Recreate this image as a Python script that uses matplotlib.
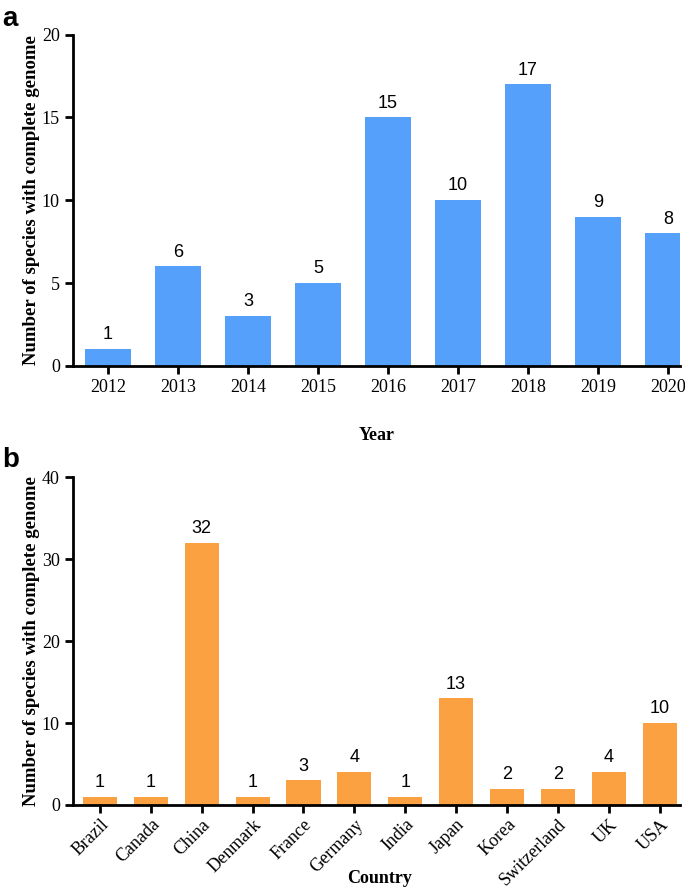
import numpy as np
import matplotlib
matplotlib.use("Agg")
import matplotlib.pyplot as plt

years = ["2012", "2013", "2014", "2015", "2016", "2017", "2018", "2019", "2020"]
year_counts = [1, 6, 3, 5, 15, 10, 17, 9, 8]

countries = ["Brazil", "Canada", "China", "Denmark", "France", "Germany", "India",
             "Japan", "Korea", "Switzerland", "UK", "USA"]
country_counts = [1, 1, 32, 1, 3, 4, 1, 13, 2, 2, 4, 10]

serif = "Liberation Serif"
sans = "Liberation Sans"
ylab = "Number of species with complete genome"


def style_axis(ax):
    for s in ["top", "right"]:
        ax.spines[s].set_visible(False)
    for s in ["left", "bottom"]:
        ax.spines[s].set_linewidth(2)
    ax.tick_params(width=2, length=6, labelsize=13, direction="out")
    for lab in ax.get_xticklabels() + ax.get_yticklabels():
        lab.set_fontfamily(serif)


fig = plt.figure(figsize=(6.85, 8.88), dpi=100)

# panel a
ax1 = fig.add_axes([0.1066, 0.588, 0.886, 0.373])
x1 = np.arange(len(years))
ax1.bar(x1, year_counts, width=0.65, color="#55A0FA")
for x, v in zip(x1, year_counts):
    ax1.text(x, v + 0.35, str(v), ha="center", va="bottom", fontsize=13, fontfamily=sans)
ax1.set_xlim(-0.5, 8.17)
ax1.set_ylim(0, 20)
ax1.set_yticks([0, 5, 10, 15, 20])
ax1.set_xticks(x1)
ax1.set_xticklabels(years)
style_axis(ax1)
ax1.set_ylabel(ylab, fontsize=13.5, fontweight="bold", fontfamily=serif, labelpad=1)
ax1.set_xlabel("Year", fontsize=13, fontweight="bold", fontfamily=serif, labelpad=22)
fig.text(0.003, 0.993, "a", fontsize=20, fontweight="bold", fontfamily=sans, va="top")

# panel b
ax2 = fig.add_axes([0.1066, 0.0935, 0.886, 0.369])
x2 = np.arange(len(countries))
ax2.bar(x2, country_counts, width=0.67, color="#FCA142")
for x, v in zip(x2, country_counts):
    ax2.text(x, v + 0.7, str(v), ha="center", va="bottom", fontsize=13, fontfamily=sans)
ax2.set_xlim(-0.53, 11.4)
ax2.set_ylim(0, 40)
ax2.set_yticks([0, 10, 20, 30, 40])
ax2.set_xticks(x2)
ax2.set_xticklabels(countries, rotation=45, ha="right", rotation_mode="anchor")
style_axis(ax2)
ax2.tick_params(axis="x", pad=2)
ax2.set_ylabel(ylab, fontsize=13.5, fontweight="bold", fontfamily=serif, labelpad=1)
fig.text(380 / 685, 1 - 878 / 888, "Country", fontsize=13, fontweight="bold",
         fontfamily=serif, ha="center", va="center")
fig.text(0.003, 0.497, "b", fontsize=20, fontweight="bold", fontfamily=sans, va="top")

fig.savefig("out.png", dpi=100)
